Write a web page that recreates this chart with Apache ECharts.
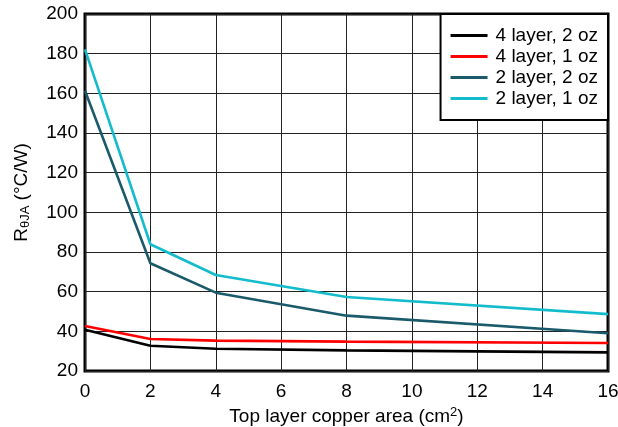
<!DOCTYPE html>
<html>
<head>
<meta charset="utf-8">
<script src="https://cdn.jsdelivr.net/npm/echarts@6/dist/echarts.min.js"></script>
<style>
html,body{margin:0;padding:0;background:#fff;}
#c{width:618px;height:427px;}
</style>
</head>
<body>
<div id="c"></div>
<script>
const xValues = [0, 2, 4, 8, 16];
const seriesNames = ['4 layer, 2 oz', '4 layer, 1 oz', '2 layer, 2 oz', '2 layer, 1 oz'];
const fourLayer2oz = [40.8, 32.7, 31.2, 30.4, 29.4];
const fourLayer1oz = [42.7, 36.1, 35.3, 34.8, 34.1];
const twoLayer2oz = [161.3, 74.3, 59.5, 47.9, 39.0];
const twoLayer1oz = [182.2, 83.9, 68.4, 57.3, 48.7];
const xTicks = [0, 2, 4, 6, 8, 10, 12, 14, 16];
const yTicks = [20, 40, 60, 80, 100, 120, 140, 160, 180, 200];

const colors = ['#000000', '#ff0000', '#1b5a6b', '#13bccc'];
const allData = [fourLayer2oz, fourLayer1oz, twoLayer2oz, twoLayer1oz];
const font = 'Liberation Sans, Arial, sans-serif';

const chart = echarts.init(document.getElementById('c'), null, {renderer: 'canvas'});
chart.setOption({
  animation: false,
  backgroundColor: '#fff',
  textStyle: {fontFamily: font},
  grid: {left: 85, right: 10, top: 14, bottom: 56, show: true, borderColor: '#000', borderWidth: 3, backgroundColor: 'transparent', containLabel: false, outerBoundsMode: 'none'},
  legend: {
    orient: 'vertical',
    right: 10,
    top: 14,
    backgroundColor: '#fff',
    borderColor: '#000',
    borderWidth: 2,
    padding: [12, 10, 12, 10],
    itemWidth: 37,
    itemHeight: 3,
    itemGap: 2,
    icon: 'rect',
    textStyle: {fontSize: 19, color: '#000', fontFamily: font, lineHeight: 19, padding: [0, 0, 0, 3]},
    data: seriesNames
  },
  xAxis: {
    type: 'value',
    min: xTicks[0],
    max: xTicks[xTicks.length - 1],
    interval: 2,
    axisLine: {show: false},
    axisTick: {show: false},
    axisLabel: {fontSize: 19, color: '#000', margin: 11, fontFamily: font},
    splitLine: {show: true, lineStyle: {color: '#222', width: 1}},
    name: '{a|Top layer copper area (cm}{s|2}{a|)}',
    nameLocation: 'middle',
    nameGap: 32,
    nameTextStyle: {
      rich: {
        a: {fontSize: 19, color: '#000', fontFamily: font},
        s: {fontSize: 13, color: '#000', fontFamily: font, padding: [0, 0, 9, 0]}
      }
    }
  },
  yAxis: {
    type: 'value',
    min: yTicks[0],
    max: yTicks[yTicks.length - 1],
    interval: 20,
    axisLine: {show: false},
    axisTick: {show: false},
    axisLabel: {fontSize: 19, color: '#000', margin: 7, fontFamily: font},
    splitLine: {show: true, lineStyle: {color: '#222', width: 1}},
    name: '{a|R}{s|θJA}{a| (°C/W)}',
    nameLocation: 'middle',
    nameRotate: 90,
    nameGap: 53,
    nameTextStyle: {
      rich: {
        a: {fontSize: 19, color: '#000', fontFamily: font},
        s: {fontSize: 13, color: '#000', fontFamily: font, padding: [7, 0, 0, 0]}
      }
    }
  },
  series: seriesNames.map((n, i) => ({
    name: n,
    type: 'line',
    symbol: 'none',
    data: xValues.map((x, j) => [x, allData[i][j]]),
    lineStyle: {color: colors[i], width: 2.6},
    itemStyle: {color: colors[i]},
    z: 3 + i
  }))
});
</script>
</body>
</html>
